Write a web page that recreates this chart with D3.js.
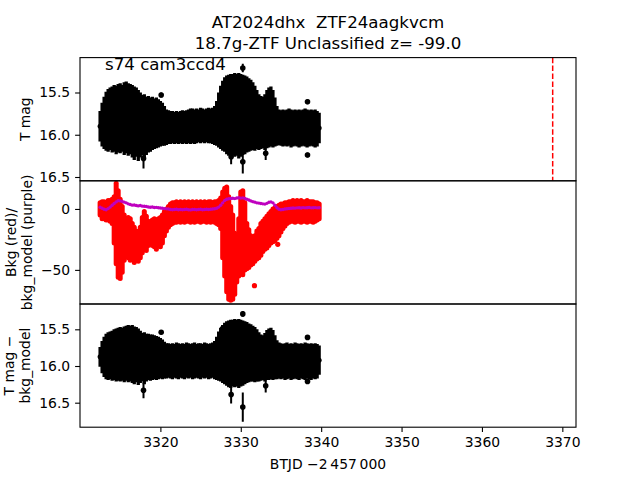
<!DOCTYPE html>
<html><head><meta charset="utf-8">
<script src="https://cdn.jsdelivr.net/npm/d3@7"></script>
<style>body{margin:0;background:#fff} text{font-family:"DejaVu Sans",sans-serif;white-space:pre}</style>
</head><body><svg id="c" width="640" height="480" xmlns="http://www.w3.org/2000/svg"></svg>
<script>
// ---- data ----
const times=[3312.5,3312.75,3313,3313.25,3313.5,3313.75,3314,3314.25,3314.5,3314.75,
3315,3315.25,3315.5,3315.75,3316,3316.25,3316.5,3316.75,3317,3317.25,
3317.5,3317.75,3318,3318.25,3318.5,3318.75,3319,3319.25,3319.5,3319.75,
3320,3320.25,3320.5,3320.75,3321,3321.25,3321.5,3321.75,3322,3322.25,
3322.5,3322.75,3323,3323.25,3323.5,3323.75,3324,3324.25,3324.5,3324.75,
3325,3325.25,3325.5,3325.75,3326,3326.25,3326.5,3326.75,3327,3327.25,
3327.5,3327.75,3328,3328.25,3328.5,3328.75,3329,3329.25,3329.5,3329.75,
3330,3330.25,3330.5,3330.75,3331,3331.25,3331.5,3331.75,3332,3332.25,
3332.5,3332.75,3333,3333.25,3333.5,3333.75,3334,3334.25,3334.5,3334.75,
3335,3335.25,3335.5,3335.75,3336,3336.25,3336.5,3336.75,3337,3337.25,
3337.5,3337.75,3338,3338.25,3338.5,3338.75,3339,3339.25,3339.5,3339.75];

// T mag: bright and faint ends of the error-bar band
const magBright=[15.72,15.62,15.55,15.49,15.46,15.44,15.43,15.41,15.42,15.40,
15.39,15.41,15.38,15.37,15.39,15.40,15.41,15.43,15.44,15.47,
15.50,15.53,15.52,15.55,15.54,15.56,15.55,15.57,15.56,15.58,
15.60,15.62,15.66,15.70,15.71,15.72,15.72,15.73,15.72,15.73,
15.72,15.71,15.72,15.71,15.70,15.69,15.69,15.70,15.69,15.70,
15.68,15.69,15.70,15.69,15.68,15.69,15.68,15.66,15.60,15.50,
15.42,15.36,15.32,15.30,15.29,15.28,15.28,15.27,15.28,15.27,
15.28,15.29,15.30,15.31,15.33,15.35,15.38,15.42,15.47,15.52,
15.54,15.55,15.52,15.47,15.44,15.43,15.47,15.56,15.66,15.70,
15.71,15.70,15.71,15.70,15.69,15.70,15.71,15.70,15.71,15.70,
15.71,15.70,15.69,15.70,15.71,15.70,15.71,15.70,15.72,15.74];
const magFaint=[16.08,16.14,16.17,16.19,16.20,16.18,16.21,16.20,16.23,16.21,
16.22,16.20,16.24,16.22,16.25,16.23,16.27,16.30,16.26,16.31,
16.27,16.24,16.29,16.24,16.21,16.20,16.18,16.17,16.16,16.15,
16.14,16.13,16.13,16.12,16.11,16.11,16.10,16.11,16.10,16.11,
16.10,16.11,16.10,16.11,16.10,16.11,16.10,16.11,16.10,16.09,
16.10,16.09,16.10,16.09,16.10,16.10,16.11,16.12,16.13,16.15,
16.17,16.19,16.20,16.23,16.25,16.27,16.24,16.26,16.25,16.28,
16.26,16.24,16.23,16.21,16.20,16.19,16.18,16.19,16.17,16.18,
16.17,16.16,16.18,16.16,16.15,16.14,16.15,16.14,16.13,16.12,
16.13,16.14,16.13,16.14,16.13,16.15,16.14,16.13,16.14,16.15,
16.14,16.13,16.14,16.15,16.14,16.13,16.14,16.15,16.14,16.10];

// T mag - bkg_model
const corrBright=[15.74,15.66,15.60,15.56,15.54,15.53,15.52,15.50,15.49,15.48,
15.47,15.48,15.46,15.45,15.44,15.45,15.44,15.46,15.47,15.49,
15.52,15.55,15.54,15.56,15.56,15.57,15.57,15.58,15.59,15.60,
15.62,15.64,15.67,15.69,15.69,15.70,15.69,15.70,15.68,15.69,
15.70,15.69,15.70,15.68,15.69,15.70,15.69,15.68,15.70,15.69,
15.69,15.70,15.68,15.69,15.70,15.69,15.68,15.66,15.60,15.53,
15.48,15.44,15.41,15.39,15.38,15.37,15.37,15.36,15.37,15.36,
15.37,15.38,15.39,15.40,15.42,15.43,15.45,15.47,15.50,15.54,
15.57,15.58,15.55,15.51,15.49,15.48,15.51,15.58,15.65,15.68,
15.69,15.70,15.69,15.68,15.70,15.69,15.70,15.68,15.69,15.70,
15.69,15.70,15.68,15.69,15.70,15.69,15.70,15.69,15.70,15.72];
const corrFaint=[16.01,16.10,16.15,16.18,16.19,16.18,16.20,16.19,16.21,16.20,
16.21,16.20,16.22,16.20,16.22,16.21,16.23,16.25,16.22,16.26,
16.23,16.21,16.25,16.21,16.19,16.20,16.19,16.18,16.19,16.18,
16.17,16.18,16.17,16.17,16.16,16.17,16.18,16.16,16.17,16.18,
16.16,16.17,16.18,16.16,16.17,16.16,16.18,16.17,16.16,16.17,
16.18,16.16,16.17,16.16,16.18,16.17,16.16,16.18,16.19,16.20,
16.21,16.23,16.25,16.27,16.29,16.30,16.28,16.29,16.28,16.30,
16.28,16.27,16.25,16.23,16.22,16.21,16.21,16.22,16.21,16.21,
16.20,16.19,16.21,16.19,16.19,16.18,16.19,16.18,16.18,16.17,
16.18,16.17,16.19,16.18,16.17,16.19,16.18,16.17,16.18,16.19,
16.17,16.18,16.19,16.17,16.18,16.19,16.17,16.18,16.17,16.12];

// isolated points with error bars
const outTime=[3317.9,3320.1,3327.75,3328.8,3330.25,3330.25,3333.1,3338.3,3338.3];
const outMag=[16.28,15.53,15.46,16.26,15.21,16.32,16.22,15.61,16.24];
const outErr=[0.12,0.03,0.04,0.09,0.05,0.14,0.08,0.03,0.03];
const outCorr=[16.33,15.54,15.49,16.39,15.29,16.56,16.27,15.61,16.21];
const outCorrErr=[0.11,0.03,0.04,0.12,0.04,0.20,0.09,0.03,0.03];

// background (red): upper and lower extent of the point cloud
const bkgHi=[5,6,6,5,7,7,8,10,21,15,
8,2,-5,-9,-7,-8,-12,-15,-18,-20,
-15,-7,-2,-6,-10,-11,-9,-8,-9,-8,
-7,-5,-2,0,2,4,5,5,6,5,
6,5,6,5,6,5,6,5,6,5,
6,5,6,5,6,6,5,6,6,7,
9,14,17,18,10,2,-5,-20,-35,-8,
14,15,5,-12,-17,-22,-24,-22,-18,-16,
-12,-10,-8,-6,-4,-2,0,1,2,3,
4,4,5,5,6,6,7,6,7,6,
7,6,6,7,6,6,6,5,5,4];
const bkgLo=[-5,-8,-8,-9,-9,-10,-12,-28,-45,-56,
-57,-52,-42,-38,-40,-42,-39,-44,-42,-43,
-40,-36,-32,-34,-30,-28,-30,-31,-33,-30,
-31,-28,-22,-18,-15,-13,-12,-11,-11,-10,
-11,-10,-11,-10,-10,-11,-10,-11,-10,-10,
-11,-10,-10,-11,-10,-11,-10,-11,-12,-13,
-16,-40,-55,-68,-74,-75,-74,-70,-60,-55,
-52,-54,-50,-49,-48,-46,-45,-43,-41,-40,
-38,-35,-33,-32,-30,-28,-27,-26,-24,-22,
-19,-16,-14,-12,-11,-10,-10,-11,-10,-10,
-11,-10,-10,-11,-10,-10,-11,-10,-9,-8];
const bkgOutTime=[3331.7,3334.6];
const bkgOutVal=[-63,-29];
// bkg_model (purple)
const bkgModel=[1.4,0.6,-0.2,-0.6,0.3,1.5,3.0,4.5,5.8,6.8,
6.6,6.2,5.6,5.0,4.2,3.6,3.1,3.3,2.8,2.5,
2.8,2.3,2.2,2.0,1.6,1.4,1.6,1.2,1.3,1.0,
0.8,0.6,0.3,0.1,-0.1,-0.4,-0.6,-0.5,-0.3,-0.6,
-0.4,-0.7,-0.5,-0.3,-0.6,-0.8,-0.5,-0.4,-0.7,-0.5,
-0.3,-0.6,-0.4,-0.2,-0.5,-0.3,0.0,0.2,0.6,1.5,
3.0,5.0,7.0,8.0,8.4,8.6,8.8,8.5,9.0,9.2,
8.9,9.1,8.6,8.0,7.4,6.6,6.0,5.6,5.0,4.8,
4.5,4.2,4.0,4.6,5.5,5.8,5.0,3.0,1.0,-0.3,
-0.6,-0.4,-0.1,0.2,0.4,0.6,0.8,0.7,0.9,1.0,
0.8,1.1,0.9,1.0,1.2,0.9,1.0,1.1,0.9,1.0];

const discoveryTime=[3368.8];
const xTicks=[3320,3330,3340,3350,3360,3370];
const magTicks=[15.5,16.0,16.5];
const bkgTicks=[-50,0];
const titleLines=["AT2024dhx  ZTF24aagkvcm","18.7g-ZTF Unclassified z= -99.0"];
const sectorLabel="s74 cam3ccd4";

// ---- layout ----
const svg=d3.select("#c");
svg.append("rect").attr("width",640).attr("height",480).attr("fill","#fff");
const L=80,R=576,T0=57.6,PH=123.2;
const x=d3.scaleLinear().domain([3310.0,3371.7]).range([L,R]);
const y1=d3.scaleLinear().domain([15.087,16.545]).range([T0,T0+PH]);
const y2=d3.scaleLinear().domain([-78,23.1]).range([T0+2*PH,T0+PH]);
const y3=d3.scaleLinear().domain([15.155,16.834]).range([T0+2*PH,T0+3*PH]);

const defs=svg.append("defs");
[0,1,2].forEach(k=>{
  defs.append("clipPath").attr("id","cp"+k).append("rect")
    .attr("x",L).attr("y",T0+k*PH).attr("width",R-L).attr("height",PH);
});

function errBand(g,y,bright,faint,oT,oM,oE){
  g.selectAll("line.bar").data(times).join("line").attr("class","bar")
    .attr("x1",d=>x(d)).attr("x2",d=>x(d))
    .attr("y1",(d,i)=>y(bright[i])).attr("y2",(d,i)=>y(faint[i]))
    .attr("stroke","#000").attr("stroke-width",3.3);
  g.selectAll("circle.mk").data(times).join("circle").attr("class","mk")
    .attr("cx",d=>x(d)).attr("cy",(d,i)=>y((bright[i]+faint[i])/2)).attr("r",2.5).attr("fill","#000");
  g.selectAll("line.ob").data(oT).join("line").attr("class","ob")
    .attr("x1",d=>x(d)).attr("x2",d=>x(d))
    .attr("y1",(d,i)=>y(oM[i]-oE[i])).attr("y2",(d,i)=>y(oM[i]+oE[i]))
    .attr("stroke","#000").attr("stroke-width",2);
  g.selectAll("circle.om").data(oT).join("circle").attr("class","om")
    .attr("cx",d=>x(d)).attr("cy",(d,i)=>y(oM[i])).attr("r",2.8).attr("fill","#000");
}

// panel 1
const g1=svg.append("g").attr("clip-path","url(#cp0)");
errBand(g1,y1,magBright,magFaint,outTime,outMag,outErr);
g1.selectAll("line.disc").data(discoveryTime).join("line").attr("class","disc")
  .attr("x1",d=>x(d)).attr("x2",d=>x(d)).attr("y1",T0).attr("y2",T0+PH)
  .attr("stroke","#ff0000").attr("stroke-width",1.5).attr("stroke-dasharray","5.55,2.4");

// panel 2
const g2=svg.append("g").attr("clip-path","url(#cp1)");
g2.selectAll("line.bk").data(times).join("line").attr("class","bk")
  .attr("x1",d=>x(d)).attr("x2",d=>x(d))
  .attr("y1",(d,i)=>y2(bkgHi[i])).attr("y2",(d,i)=>y2(bkgLo[i]))
  .attr("stroke","#ff0000").attr("stroke-width",5).attr("stroke-linecap","round");
g2.selectAll("circle.bo").data(bkgOutTime).join("circle").attr("class","bo")
  .attr("cx",d=>x(d)).attr("cy",(d,i)=>y2(bkgOutVal[i])).attr("r",2.6).attr("fill","#ff0000");
g2.append("path").datum(times)
  .attr("d",d3.line().x(d=>x(d)).y((d,i)=>y2(bkgModel[i])))
  .attr("fill","none").attr("stroke","#bf00bf").attr("stroke-width",1.4);
g2.selectAll("circle.pm").data(times).join("circle").attr("class","pm")
  .attr("cx",d=>x(d)).attr("cy",(d,i)=>y2(bkgModel[i])).attr("r",1.7).attr("fill","#bf00bf");

// panel 3
const g3=svg.append("g").attr("clip-path","url(#cp2)");
errBand(g3,y3,corrBright,corrFaint,outTime,outCorr,outCorrErr);

// axes
function styleAxis(g){
  g.select(".domain").remove();
  g.selectAll(".tick line").attr("stroke","#000").attr("stroke-width",1.1);
  g.selectAll(".tick text").attr("font-family","DejaVu Sans").attr("font-size","13.9px").attr("fill","#000");
}
const fmt1=d3.format(".1f");
svg.append("g").attr("transform",`translate(${L},0)`)
  .call(d3.axisLeft(y1).tickValues(magTicks).tickFormat(fmt1).tickSize(4.9).tickPadding(4.9)).call(styleAxis);
svg.append("g").attr("transform",`translate(${L},0)`)
  .call(d3.axisLeft(y2).tickValues(bkgTicks).tickFormat(d3.format("d")).tickSize(4.9).tickPadding(4.9)).call(styleAxis);
svg.append("g").attr("transform",`translate(${L},0)`)
  .call(d3.axisLeft(y3).tickValues(magTicks).tickFormat(fmt1).tickSize(4.9).tickPadding(4.9)).call(styleAxis);
svg.append("g").attr("transform",`translate(0,${T0+3*PH})`)
  .call(d3.axisBottom(x).tickValues(xTicks).tickFormat(d3.format("d")).tickSize(4.9).tickPadding(4.9)).call(styleAxis);

// spines
[0,1,2].forEach(k=>{
  svg.append("rect").attr("x",L).attr("y",T0+k*PH).attr("width",R-L).attr("height",PH)
    .attr("fill","none").attr("stroke","#000").attr("stroke-width",1.1);
});

// texts
svg.selectAll("text.title").data(titleLines).join("text").attr("class","title")
  .attr("x",(L+R)/2).attr("y",(d,i)=>28+i*21).attr("text-anchor","middle")
  .attr("xml:space","preserve")
  .attr("font-size","16.67px").attr("fill","#000").text(d=>d);
svg.append("text").attr("x",105).attr("y",70).attr("font-size","16.67px").attr("fill","#000").text(sectorLabel);

function ylab(lines,cy,baselines){
  lines.forEach((s,i)=>{
    svg.append("text").attr("transform",`translate(${baselines[i]},${cy}) rotate(-90)`)
      .attr("text-anchor","middle").attr("font-size","13.9px").attr("fill","#000").text(s);
  });
}
ylab(["T mag"],T0+PH/2,[30]);
ylab(["Bkg (red)/","bkg_model (purple)"],T0+1.5*PH,[15.5,31.5]);
ylab(["T mag \u2212","bkg_model"],T0+2.5*PH,[13.5,30]);
svg.append("text").attr("x",(L+R)/2).attr("y",469).attr("text-anchor","middle")
  .attr("font-size","13.9px").attr("fill","#000").text("BTJD \u22122\u2009457\u2009000");
</script></body></html>
